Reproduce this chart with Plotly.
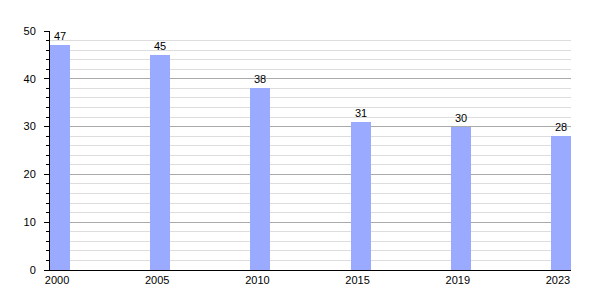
import plotly.graph_objects as go

years = ["2000", "2005", "2010", "2015", "2019", "2023"]
values = [47, 45, 38, 31, 30, 28]
positions = list(range(len(years)))

fig = go.Figure()
fig.add_trace(go.Bar(
    x=positions, y=values, width=0.2,
    marker=dict(color="#99aaff", line=dict(width=0)),
    text=[str(v) for v in values], textposition="outside",
    textfont=dict(size=11, color="black", family="Liberation Sans"),
    cliponaxis=False,
))
fig.update_layout(
    width=600, height=300,
    margin=dict(l=50, r=29, t=31, b=30),
    plot_bgcolor="white", paper_bgcolor="white",
    showlegend=False,
    font=dict(family="Liberation Sans", size=11, color="black"),
    bargap=0,
)
fig.update_xaxes(
    range=[-0.1, 5.1], tickmode="array", tickvals=[p - 0.03 for p in positions], ticktext=years,
    showgrid=False, showline=True, linecolor="black", linewidth=1,
    ticks="", zeroline=False, tickfont=dict(size=11),
)
fig.update_yaxes(
    range=[0, 50], tickmode="linear", dtick=10, tick0=0,
    showgrid=True, gridcolor="#aaaaaa", gridwidth=1,
    showline=True, linecolor="black", linewidth=1,
    ticks="outside", ticklen=5, tickcolor="black",
    minor=dict(dtick=2, showgrid=True, gridcolor="#dddddd", ticks="outside", ticklen=3, tickcolor="black"),
    zeroline=False, tickfont=dict(size=11), ticklabelstandoff=6,
)
fig.write_html("out.html")
